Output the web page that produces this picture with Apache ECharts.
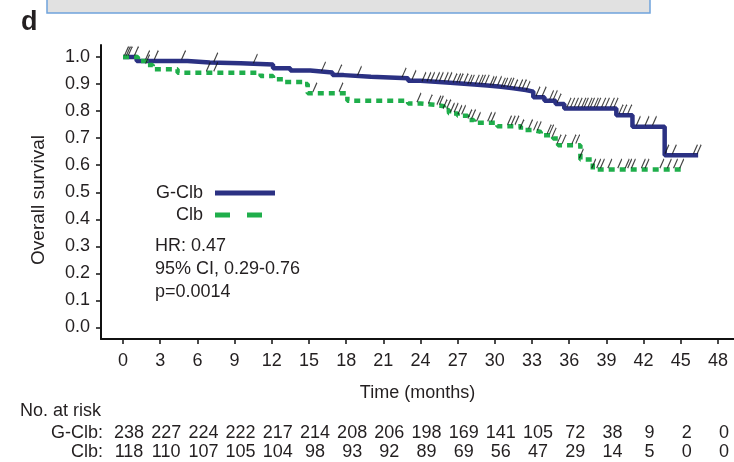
<!DOCTYPE html>
<html><head><meta charset="utf-8">
<script src="https://cdn.jsdelivr.net/npm/echarts@6/dist/echarts.min.js"></script>
<style>html,body{margin:0;padding:0;background:#fff}#c{width:734px;height:462px}</style>
</head><body><div id="c"></div>
<script>
// ---------- data ----------
const xTicks = [0,3,6,9,12,15,18,21,24,27,30,33,36,39,42,45,48];
const yTicks = [0,0.1,0.2,0.3,0.4,0.5,0.6,0.7,0.8,0.9,1.0];

const gclbT = [0,1.1,5.2,7.0,9.5,12.1,13.5,15.1,16.9,17.8,20.0,23.0,24.0,26.4,27.8,29.4,30.5,31.5,32.5,33.1,34.0,34.9,35.6,39.8,41.1,43.7,46.4];
const gclbS = [1.0,0.985,0.98,0.977,0.972,0.958,0.95,0.943,0.933,0.927,0.921,0.912,0.905,0.9,0.895,0.89,0.884,0.878,0.872,0.851,0.838,0.826,0.81,0.785,0.742,0.637,0.637];

const clbT = [0,1.2,1.9,2.4,4.4,11.1,12.1,12.9,14.6,14.9,18.1,23.0,24.0,25.4,25.9,26.3,27.0,27.8,28.3,30.2,32.1,33.1,33.7,34.7,35.1,36.9,37.9,45.0];
const clbS = [1.0,0.985,0.97,0.955,0.942,0.93,0.918,0.908,0.9,0.866,0.838,0.828,0.822,0.818,0.804,0.791,0.783,0.767,0.757,0.744,0.73,0.723,0.711,0.699,0.674,0.621,0.584,0.584];

const gclbCens = [0.2,0.35,0.5,1.0,1.9,2.6,4.8,7.4,10.6,16.1,17.4,19.0,22.6,23.4,24.2,24.6,24.9,25.3,25.6,26.0,26.3,26.7,27.0,27.2,27.6,27.9,28.1,28.5,28.8,29.0,29.3,29.7,29.9,30.3,30.6,30.8,31.1,31.3,31.6,32.0,32.3,32.6,33.4,33.9,34.5,34.8,35.1,35.9,36.2,36.5,36.8,37.1,37.3,37.6,37.8,38.1,38.3,38.7,39.0,39.4,39.7,40.1,40.4,40.8,41.5,42.2,42.8,43.8,44.4,46.1,46.4];
const clbCens = [1.9,6.8,7.4,15.4,17.5,23.8,24.7,25.4,25.6,25.9,26.2,26.5,26.8,27.1,27.4,27.9,28.2,28.6,29.5,29.8,31.1,31.4,31.7,32.1,32.8,33.2,33.5,34.3,34.5,34.7,35.1,35.5,36.3,36.6,36.9,37.9,38.3,38.6,39.2,40.0,40.6,40.8,41.1,41.9,42.2,43.4,44.0,44.5,45.0];

const riskGroups = ['Clb:','G-Clb:'];
const gclbRisk = [238,227,224,222,217,214,208,206,198,169,141,105,72,38,9,2,0];
const clbRisk  = [118,110,107,105,104,98,93,92,89,69,56,47,29,14,5,0,0];

// ---------- style / layout ----------
const FONT = "'Liberation Sans', Arial, sans-serif";
const FONT18 = "18px 'Liberation Sans', Arial, sans-serif";
const TXT = '#231f20';
const BLUE = '#2b3183';
const GREEN = '#1fae4b';

function stepAt(T, S, t) { let v = S[0]; for (let i = 0; i < T.length; i++) { if (T[i] <= t) v = S[i]; else break; } return v; }

const pxPerMonth = 12.37, x0px = 123, x48px = 718, W = 734;
const gridLeft = 101, riskLeft = 104;
const xMax = 48 + (W - x48px) / pxPerMonth;
const xMin = -(x0px - gridLeft) / pxPerMonth;
const xMinRisk = -(x0px - riskLeft) / pxPerMonth;
const gridTop = 45, gridBottomPx = 339, y1px = 57, y0px = 327.5;
const pxPerUnit = y0px - y1px;
const yMin = -(gridBottomPx - y0px) / pxPerUnit;
const yMax = 1 + (y1px - gridTop) / pxPerUnit;

const censorSymbol = 'path://M0,10L4,0';

function riskItem(params, api) {
  const p = api.coord([api.value(0), api.value(1)]);
  return {type: 'text', x: p[0] + 6, y: p[1],
          style: {text: String(api.value(2)), font: FONT18, fill: TXT, align: 'center', verticalAlign: 'middle'}};
}

const chart = echarts.init(document.getElementById('c'), null, {renderer: 'canvas'});
chart.setOption({
  animation: false,
  backgroundColor: '#fff',
  textStyle: {fontFamily: FONT, color: TXT},
  grid: [
    {left: gridLeft, right: 0, top: gridTop, height: gridBottomPx - gridTop},
    {left: riskLeft, right: 0, top: 424, height: 40}
  ],
  xAxis: [
    {type: 'value', gridIndex: 0, min: xMin, max: xMax,
     axisLine: {onZero: false, lineStyle: {color: '#111', width: 2}},
     axisTick: {show: true, length: 5, lineStyle: {color: '#111', width: 1.5}, customValues: xTicks},
     axisLabel: {customValues: xTicks, fontSize: 18, color: TXT, fontFamily: FONT, margin: 13},
     splitLine: {show: false},
     name: 'Time (months)', nameLocation: 'middle', nameGap: 45,
     nameTextStyle: {fontSize: 18, color: TXT, fontFamily: FONT}},
    {type: 'value', gridIndex: 1, min: xMinRisk, max: xMax, show: false}
  ],
  yAxis: [
    {type: 'value', gridIndex: 0, min: yMin, max: yMax,
     axisLine: {show: true, onZero: false, lineStyle: {color: '#111', width: 2}},
     axisTick: {show: true, length: 5, lineStyle: {color: '#111', width: 1.5}, customValues: yTicks},
     axisLabel: {customValues: yTicks, fontSize: 18, color: TXT, fontFamily: FONT, margin: 11,
                 formatter: v => v.toFixed(1)},
     splitLine: {show: false}},
    {type: 'category', gridIndex: 1, data: riskGroups,
     axisLine: {show: false}, axisTick: {show: false}, splitLine: {show: false},
     axisLabel: {interval: 0, fontSize: 18, color: TXT, fontFamily: FONT, margin: 1}}
  ],
  legend: [
    {data: ['G-Clb'], align: 'right', right: W - 275, top: 184, padding: 0,
     itemWidth: 60, itemHeight: 5, icon: 'rect', selectedMode: false,
     itemStyle: {borderWidth: 0},
     textStyle: {fontSize: 18, color: TXT, fontFamily: FONT, padding: [0, 7, 0, 0]}},
    {data: ['Clb'], align: 'right', right: W - 262, top: 206, padding: 0,
     itemWidth: 47, itemHeight: 5, icon: 'path://M0,0h15v5h-15zM32,0h15v5h-15z', selectedMode: false,
     itemStyle: {borderWidth: 0},
     textStyle: {fontSize: 18, color: TXT, fontFamily: FONT, padding: [0, 7, 0, 0]}}
  ],
  series: [
    {name: 'G-Clb', type: 'line', step: 'end', xAxisIndex: 0, yAxisIndex: 0,
     data: gclbT.map((t, i) => [t, gclbS[i]]), symbol: 'none', showSymbol: false,
     color: BLUE, lineStyle: {color: BLUE, width: 4.5}, z: 3},
    {name: 'Clb', type: 'line', step: 'end', xAxisIndex: 0, yAxisIndex: 0,
     data: clbT.map((t, i) => [t, clbS[i]]), symbol: 'none', showSymbol: false,
     color: GREEN, lineStyle: {color: GREEN, width: 4.5, type: [6, 5]}, z: 4},
    {type: 'scatter', xAxisIndex: 0, yAxisIndex: 0, z: 5,
     data: gclbCens.map(t => [t, stepAt(gclbT, gclbS, t)]),
     symbol: censorSymbol, symbolSize: [4, 9], symbolOffset: [1, -6],
     itemStyle: {color: 'rgba(0,0,0,0)', borderColor: '#111', borderWidth: 1.3}},
    {type: 'scatter', xAxisIndex: 0, yAxisIndex: 0, z: 5,
     data: clbCens.map(t => [t, stepAt(clbT, clbS, t)]),
     symbol: censorSymbol, symbolSize: [4, 9], symbolOffset: [1, -6],
     itemStyle: {color: 'rgba(0,0,0,0)', borderColor: '#111', borderWidth: 1.3}},
    {type: 'custom', xAxisIndex: 1, yAxisIndex: 1, renderItem: riskItem,
     data: xTicks.map((t, i) => [t, 1, gclbRisk[i]])},
    {type: 'custom', xAxisIndex: 1, yAxisIndex: 1, renderItem: riskItem,
     data: xTicks.map((t, i) => [t, 0, clbRisk[i]])}
  ],
  graphic: [
    {type: 'rect', shape: {x: 47, y: -5, width: 603, height: 18},
     style: {fill: '#e1e1e1', stroke: '#6fa3dc', lineWidth: 1.5}},
    {type: 'text', left: 21, top: 9, style: {text: 'd', font: "bold 27px 'Liberation Sans', Arial, sans-serif", fill: TXT}},
    {type: 'text', x: 39, y: 200, rotation: Math.PI / 2,
     style: {text: 'Overall survival', font: "19px 'Liberation Sans', Arial, sans-serif", fill: TXT, align: 'center', verticalAlign: 'middle'}},
    {type: 'text', x: 155, y: 246, style: {text: 'HR: 0.47', font: FONT18, fill: TXT, verticalAlign: 'middle'}},
    {type: 'text', x: 155, y: 269, style: {text: '95% CI, 0.29-0.76', font: FONT18, fill: TXT, verticalAlign: 'middle'}},
    {type: 'text', x: 155, y: 292, style: {text: 'p=0.0014', font: FONT18, fill: TXT, verticalAlign: 'middle'}},
    {type: 'text', x: 20, y: 411, style: {text: 'No. at risk', font: FONT18, fill: TXT, verticalAlign: 'middle'}}
  ]
});
</script></body></html>
